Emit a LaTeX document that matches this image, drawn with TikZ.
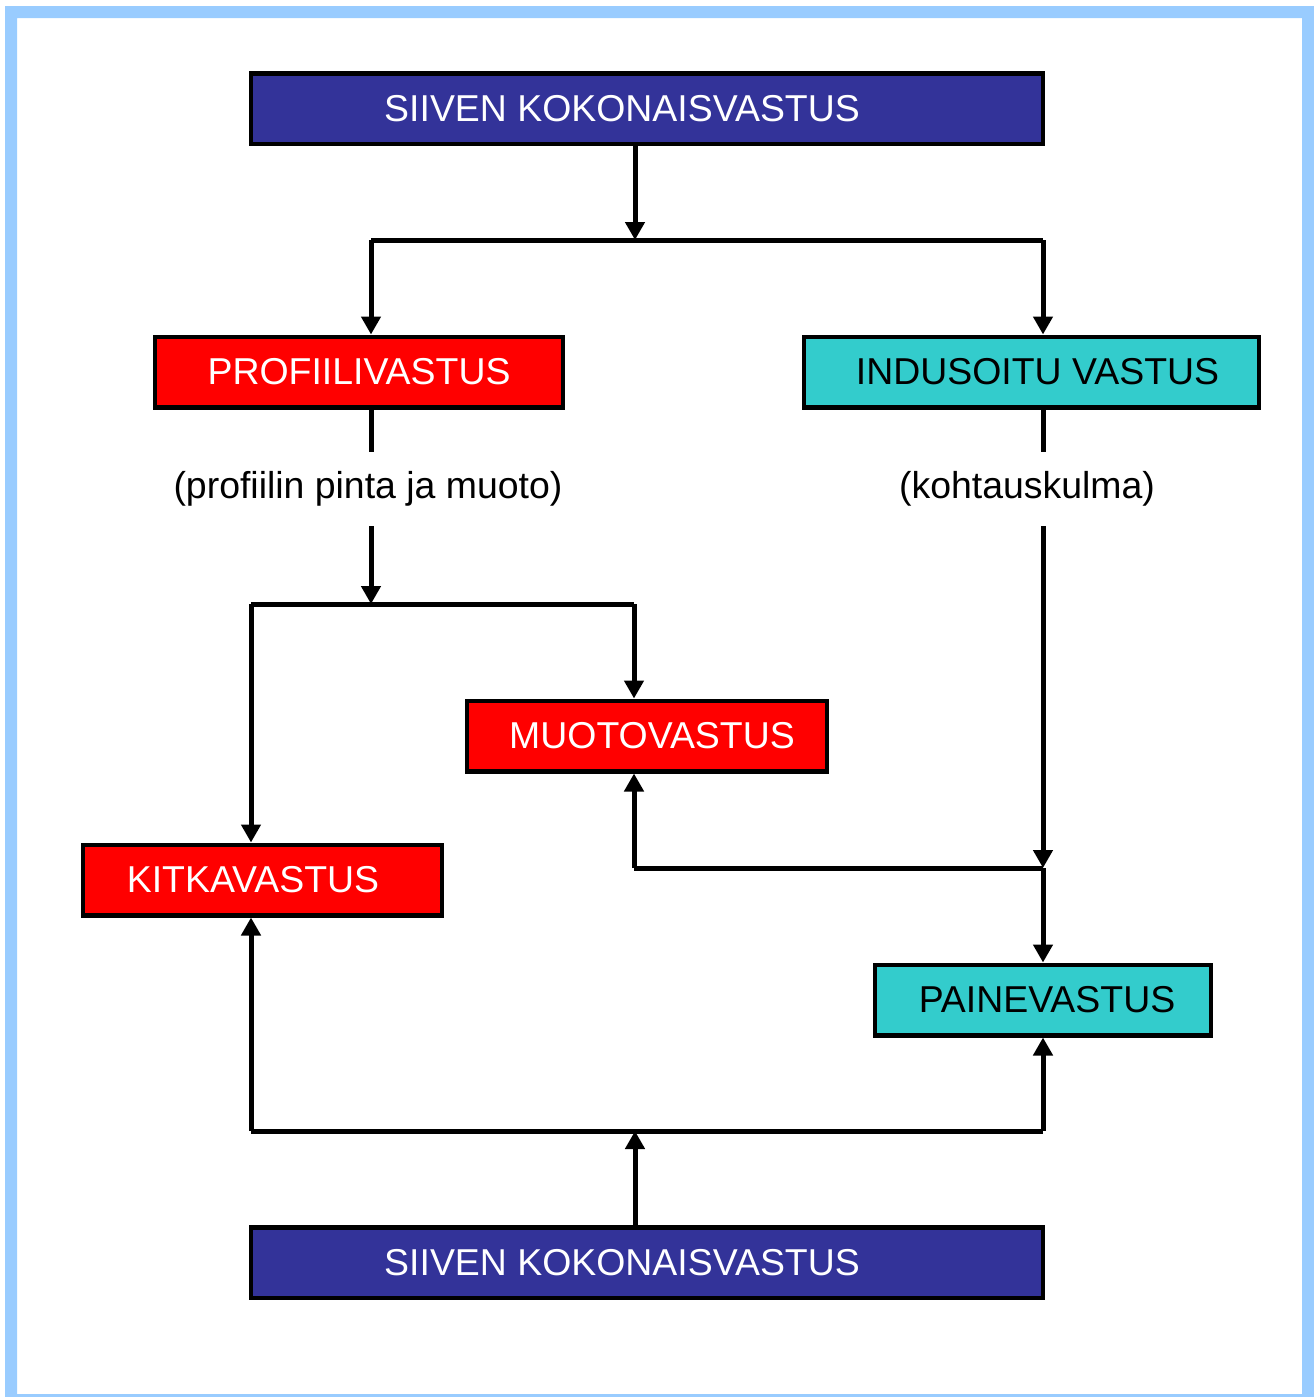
\documentclass[tikz,border=0pt]{standalone}
\usepackage{fontspec}
\setmainfont{Liberation Sans}
\usetikzlibrary{arrows.meta}
\definecolor{vblue}{HTML}{333399}
\definecolor{vred}{HTML}{FF0000}
\definecolor{vcyan}{HTML}{33CCCC}
\definecolor{vframe}{HTML}{99CCFF}
\begin{document}
\begin{tikzpicture}[x=0.02cm, y=-0.02cm, >={Triangle[length=0.36cm, width=0.38cm]},
    box/.style={draw=black, line width=0.09cm, minimum height=1.41cm, inner sep=0pt, font=\fontsize{21.3}{25}\selectfont},
    bluebox/.style={box, fill=vblue, text=white},
    redbox/.style={box, fill=vred, text=white},
    cyanbox/.style={box, fill=vcyan, text=black},
    lbl/.style={font=\fontsize{21.3}{25}\selectfont, minimum height=1.48cm, inner sep=0pt},
    conn/.style={line width=0.1cm}]
    \useasboundingbox (0,0) rectangle (1314,1397);
    % frame
    \fill[vframe, even odd rule] (5,6) rectangle (1314,1397) (17,18) rectangle (1302,1394);
    % boxes
    \node[bluebox, minimum width=15.84cm] (top) at (647,108.5) {SIIVEN KOKONAISVASTUS\hspace*{1cm}};
    \node[redbox, minimum width=8.16cm] (prof) at (359,372) {PROFIILIVASTUS};
    \node[cyanbox, minimum width=9.1cm] (indu) at (1031.5,372) {\hspace*{0.24cm}INDUSOITU VASTUS};
    \node[redbox, minimum width=7.2cm] (muoto) at (647,736) {\hspace*{0.2cm}MUOTOVASTUS};
    \node[redbox, minimum width=7.18cm] (kitka) at (262.5,880) {KITKAVASTUS\hspace*{0.38cm}};
    \node[cyanbox, minimum width=6.72cm] (paine) at (1043,1000) {\hspace*{0.16cm}PAINEVASTUS};
    \node[bluebox, minimum width=15.84cm] (bottom) at (647,1262.5) {SIIVEN KOKONAISVASTUS\hspace*{1cm}};
    \node[lbl] (plabel) at (368,489) {(profiilin pinta ja muoto)};
    \node[lbl] (ilabel) at (1027,489) {(kohtauskulma)};
    % junctions
    \coordinate (s1) at (635,240);
    \coordinate (pl) at (371,240);
    \coordinate (pr) at (1043,240);
    \coordinate (s2) at (371,604);
    \coordinate (kl) at (251,604);
    \coordinate (mr) at (634,604);
    \coordinate (mj) at (634,868);
    \coordinate (pj) at (1043,868);
    \coordinate (s4) at (635,1131);
    \coordinate (kb) at (251,1131);
    \coordinate (pb) at (1043,1131);
    % top split
    \draw[conn, ->] (top.south -| s1) -- (s1);
    \draw[conn] (pl) -- (pr);
    \draw[conn, ->] (pl) -- (prof.north -| pl);
    \draw[conn, ->] (pr) -- (indu.north -| pr);
    % profile drag
    \draw[conn] (prof.south -| pl) -- (pl |- plabel.north);
    \draw[conn, ->] (plabel.south -| pl) -- (s2);
    \draw[conn] (kl) -- (mr);
    \draw[conn, ->] (kl) -- (kitka.north -| kl);
    \draw[conn, ->] (mr) -- (muoto.north -| mr);
    % induced drag
    \draw[conn] (indu.south -| pr) -- (pr |- ilabel.north);
    \draw[conn, ->] (ilabel.south -| pr) -- (pj);
    \draw[conn] (mj) -- (pj);
    \draw[conn, ->] (mj) -- (muoto.south -| mj);
    \draw[conn, ->] (pj) -- (paine.north -| pj);
    % bottom split
    \draw[conn, ->] (bottom.north -| s4) -- (s4);
    \draw[conn] (kb) -- (pb);
    \draw[conn, ->] (kb) -- (kitka.south -| kb);
    \draw[conn, ->] (pb) -- (paine.south -| pb);
\end{tikzpicture}
\end{document}
